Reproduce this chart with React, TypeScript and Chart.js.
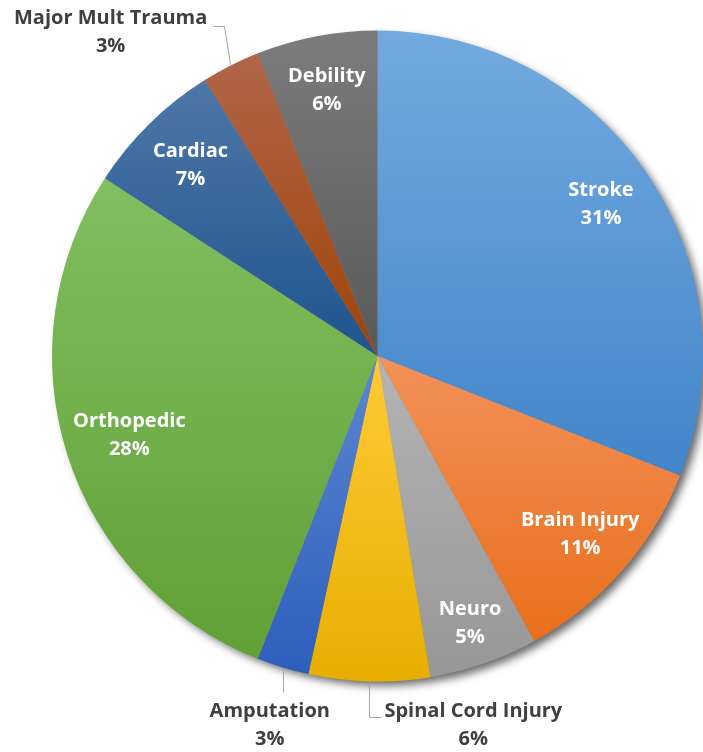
import React, { useEffect, useRef } from "react";
import { Chart, registerables } from "chart.js";

Chart.register(...registerables);

const categories = [
  "Stroke",
  "Brain Injury",
  "Neuro",
  "Spinal Cord Injury",
  "Amputation",
  "Orthopedic",
  "Cardiac",
  "Major Mult Trauma",
  "Debility",
];
const shares = [31, 11, 5.4, 6, 2.6, 28.2, 6.9, 2.9, 6];
const percentLabels = ["31%", "11%", "5%", "6%", "3%", "28%", "7%", "3%", "6%"];

const lightColors = ["#72aadf", "#f39159", "#b4b4b4", "#ffca38", "#5b87d1", "#81be60", "#4e77a7", "#b1654a", "#7c7c7c"];
const darkColors = ["#4285c9", "#e86f1c", "#979797", "#e7ae00", "#2e5ebc", "#60a035", "#1f548f", "#9f4406", "#595959"];

type LabelLayout =
  | { kind: "in"; r: number }
  | { kind: "out"; dx: number; dy: number; leader: number[][] };
const labelLayout: LabelLayout[] = [
  { kind: "in", r: 0.83 },
  { kind: "in", r: 0.83 },
  { kind: "in", r: 0.87 },
  { kind: "out", dx: 104, dy: 44, leader: [[0, 1], [0, 36], [12, 36]] },
  { kind: "out", dx: -13, dy: 58, leader: [[0, 2], [0, 25]] },
  { kind: "in", r: 0.8 },
  { kind: "in", r: 0.82 },
  { kind: "out", dx: -120, dy: -33, leader: [[-1, -2], [-7, -40], [-18, -40]] },
  { kind: "in", r: 0.83 },
];

const FONT = "bold 20px 'Open Sans', Lato, sans-serif";

function sliceYBounds(a0: number, a1: number, cx: number, cy: number, r: number) {
  const ys = [cy, cy + r * Math.sin(a0), cy + r * Math.sin(a1)];
  for (let k = -4; k <= 4; k++) {
    const a = Math.PI / 2 + k * Math.PI;
    if (a > a0 && a < a1) ys.push(cy + r * Math.sin(a));
  }
  return [Math.min(...ys), Math.max(...ys)];
}

const shadowPlugin = {
  id: "pieShadow",
  beforeDatasetsDraw(chart: any) {
    const arc = chart.getDatasetMeta(0).data[0];
    if (!arc) return;
    const ctx = chart.ctx;
    ctx.save();
    ctx.shadowColor = "rgba(0,0,0,0.6)";
    ctx.shadowBlur = 8;
    ctx.shadowOffsetX = 5;
    ctx.shadowOffsetY = 5;
    ctx.fillStyle = "#888";
    ctx.beginPath();
    ctx.arc(arc.x, arc.y, arc.outerRadius - 1, 0, Math.PI * 2);
    ctx.fill();
    ctx.restore();
  },
};

const labelPlugin = {
  id: "sliceLabels",
  afterDatasetsDraw(chart: any) {
    const ctx = chart.ctx;
    const arcs = chart.getDatasetMeta(0).data;
    ctx.save();
    ctx.font = FONT;
    ctx.textAlign = "center";
    ctx.textBaseline = "middle";
    arcs.forEach((arc: any, i: number) => {
      const lay = labelLayout[i];
      const mid = (arc.startAngle + arc.endAngle) / 2;
      let x: number, y: number;
      if (lay.kind === "in") {
        x = arc.x + Math.cos(mid) * arc.outerRadius * lay.r;
        y = arc.y + Math.sin(mid) * arc.outerRadius * lay.r;
        ctx.fillStyle = "#ffffff";
      } else {
        const ax = arc.x + Math.cos(mid) * arc.outerRadius;
        const ay = arc.y + Math.sin(mid) * arc.outerRadius;
        ctx.strokeStyle = "#a6a6a6";
        ctx.lineWidth = 1;
        ctx.beginPath();
        lay.leader.forEach((p, j) => {
          const px = Math.round(ax + p[0]) + 0.5;
          const py = Math.round(ay + p[1]) + 0.5;
          if (j === 0) ctx.moveTo(px, py);
          else ctx.lineTo(px, py);
        });
        ctx.stroke();
        x = ax + lay.dx;
        y = ay + lay.dy;
        ctx.fillStyle = "#404040";
      }
      ctx.fillText(categories[i], x, y - 14);
      ctx.fillText(percentLabels[i], x, y + 14);
    });
    ctx.restore();
  },
};

export default function App() {
  const ref = useRef<HTMLCanvasElement>(null);
  useEffect(() => {
    document.body.style.margin = "0";
    const total = shares.reduce((a, b) => a + b, 0);
    const chart = new Chart(ref.current!, {
      type: "pie",
      data: {
        labels: categories,
        datasets: [
          {
            data: shares,
            borderWidth: 0,
            backgroundColor: (c: any) => {
              const chartRef = c.chart;
              const area = chartRef.chartArea;
              const i = c.dataIndex;
              if (!area || i === undefined) return darkColors[i ?? 0];
              const cx = (area.left + area.right) / 2;
              const cy = (area.top + area.bottom) / 2;
              const r = Math.min(area.right - area.left, area.bottom - area.top) / 2;
              let before = 0;
              for (let k = 0; k < i; k++) before += shares[k];
              const a0 = -Math.PI / 2 + (before / total) * Math.PI * 2;
              const a1 = -Math.PI / 2 + ((before + shares[i]) / total) * Math.PI * 2;
              const [y0, y1] = sliceYBounds(a0, a1, cx, cy, r);
              const g = chartRef.ctx.createLinearGradient(0, y0, 0, y1);
              g.addColorStop(0, lightColors[i]);
              g.addColorStop(1, darkColors[i]);
              return g;
            },
          },
        ],
      },
      options: {
        responsive: true,
        maintainAspectRatio: false,
        animation: false,
        layout: { padding: { left: 52, right: 0, top: 30, bottom: 70 } },
        plugins: {
          legend: { display: false },
          tooltip: { enabled: false },
        },
      },
      plugins: [shadowPlugin, labelPlugin],
    });
    return () => chart.destroy();
  }, []);
  return (
    <div style={{ width: 703, height: 752, position: "relative", background: "#fff" }}>
      <canvas ref={ref} />
    </div>
  );
}
